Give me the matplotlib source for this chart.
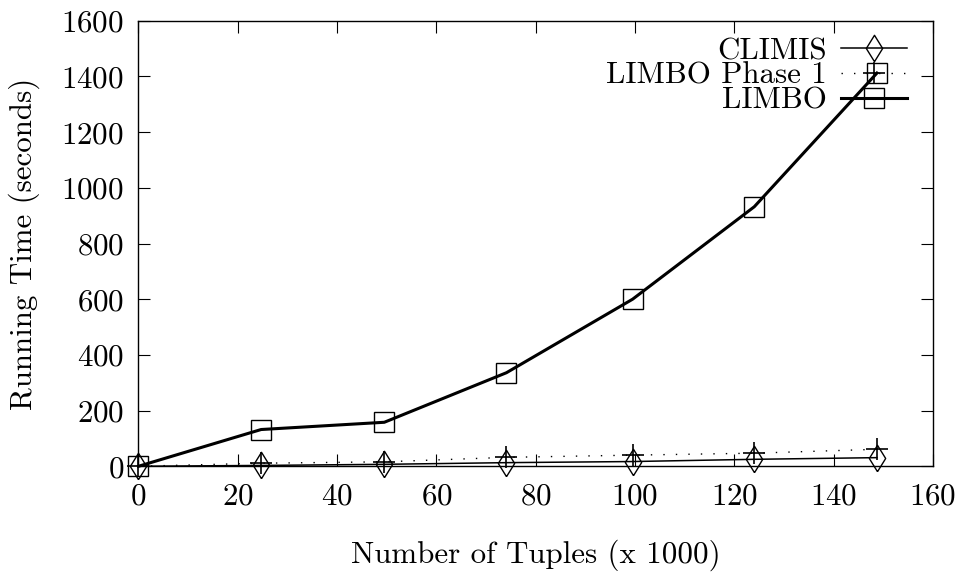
import matplotlib
matplotlib.use('Agg')
import matplotlib.pyplot as plt

plt.rcParams['font.family'] = ['cmr10', 'DejaVu Serif']
plt.rcParams['mathtext.fontset'] = 'cm'
plt.rcParams['axes.formatter.use_mathtext'] = True

# number of tuples (x 1000)
tuples = [0, 24.7, 49.5, 74.1, 99.5, 124, 148.7]

# running times (seconds)
climis = [0, 3, 7, 13, 17, 25, 31]
limbo_phase1 = [0, 11, 16, 32, 40, 47, 61]
limbo = [0, 132, 158, 336, 600, 932, 1412]

x_ticks = [0, 20, 40, 60, 80, 100, 120, 140, 160]
y_ticks = [0, 200, 400, 600, 800, 1000, 1200, 1400, 1600]

FS = 22.3

# gnuplot style tall diamond
diamond = [(0, -1), (0.62, 0), (0, 1), (-0.62, 0), (0, -1)]


def main():
    fig = plt.figure(figsize=(9.63, 5.76), dpi=100)
    ax = fig.add_axes([0.1438, 0.1905, 0.8251, 0.7735])

    ax.plot(tuples, climis, color='black', linewidth=1.1, marker=diamond,
            markersize=19, markerfacecolor='none', markeredgewidth=1.0,
            label='CLIMIS', clip_on=False)
    ax.plot(tuples, limbo_phase1, color='black', linewidth=1.0,
            linestyle=(0, (1, 8)), marker='+', markersize=16,
            markeredgewidth=1.2, label='LIMBO Phase 1', clip_on=False)
    ax.plot(tuples, limbo, color='black', linewidth=2.2, marker='s',
            markersize=14.5, markerfacecolor='none', markeredgewidth=1.0,
            label='LIMBO', clip_on=False)

    ax.set_xlim(0, 160)
    ax.set_ylim(0, 1600)
    ax.set_xticks(x_ticks)
    ax.set_yticks(y_ticks)
    ax.tick_params(direction='in', length=8.6, width=0.8, top=True,
                   right=True, labelsize=FS)
    ax.tick_params(axis='x', pad=12)
    ax.tick_params(axis='y', pad=10.5)
    for s in ax.spines.values():
        s.set_linewidth(1.0)

    ax.set_xlabel('Number of Tuples (x 1000)', fontsize=FS, labelpad=20.5)
    ax.set_ylabel('Running Time (seconds)', fontsize=FS, labelpad=15.4)

    ax.legend(loc='upper right', frameon=False, markerfirst=False,
              fontsize=FS, handlelength=2.15, handletextpad=0.45,
              labelspacing=-0.1, borderaxespad=0.3, numpoints=1,
              bbox_to_anchor=(0.995, 1.012))

    fig.savefig('out.png', dpi=100)


if __name__ == '__main__':
    main()
